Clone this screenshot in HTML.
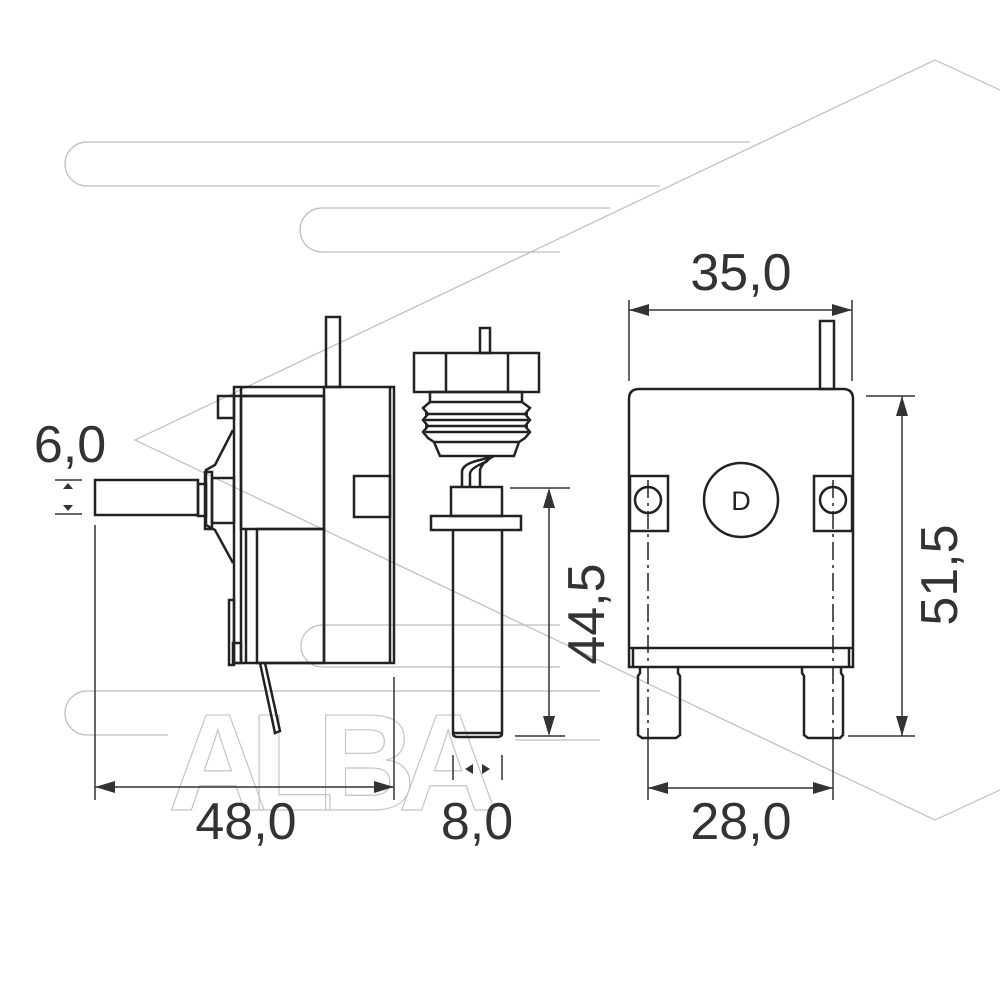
<!DOCTYPE html>
<html><head><meta charset="utf-8"><style>
html,body{margin:0;padding:0;background:#fff;}
svg{display:block;}
.t{font-family:"Liberation Sans",sans-serif;font-size:52px;fill:#333;}
</style></head><body>
<svg width="1000" height="1000" viewBox="0 0 1000 1000" xmlns="http://www.w3.org/2000/svg">
<!-- watermark -->
<g fill="none" stroke="#bdbdbd" stroke-width="1.2">
<polyline points="1000,90 935,60 135,440 935,820 1000,790"/>
<path d="M750,142 H87 A22,22 0 0 0 87,186 H660"/>
<path d="M610,208 H322 A22,22 0 0 0 322,252 H560"/>
<path d="M560,625 H322 A21,21 0 0 0 322,667 H560"/>
<path d="M600,691 H87 A22,22 0 0 0 87,735 H168"/>
<line x1="515" y1="740" x2="600" y2="740"/>
<text x="168" y="810" font-family="Liberation Sans,sans-serif" font-weight="bold" font-size="138" textLength="330" stroke="#c4c4c4" fill="none">ALBA</text>
</g>
<g fill="none" stroke="#222" stroke-width="2.5">
<!-- left view -->
<rect x="326" y="317" width="14" height="70"/>
<rect x="234" y="387" width="160" height="276"/>
<line x1="241" y1="387" x2="241" y2="663"/>
<line x1="324" y1="387" x2="324" y2="663"/>
<line x1="390" y1="387" x2="390" y2="663"/>
<line x1="234" y1="396" x2="324" y2="396"/>
<rect x="241" y="396" width="83" height="133"/>
<rect x="257" y="529" width="67" height="134"/>
<line x1="246" y1="529" x2="246" y2="663"/>
<rect x="354" y="476" width="36" height="41"/>
<rect x="218" y="396" width="16" height="22"/>
<rect x="229" y="600" width="5" height="65"/>
<rect x="233" y="643" width="8" height="20"/>
<path d="M233,430 L215,465 L206,470 L206,525 L215,530 L233,563"/>
<rect x="205" y="472" width="7" height="57"/>
<rect x="212" y="478" width="22" height="45"/>
<rect x="198" y="484" width="8" height="32"/>
<rect x="95" y="480" width="103" height="35"/>
<path d="M260,663 L275,733 L280,731 L265,663"/>
<!-- middle view -->
<rect x="480" y="328" width="10" height="25"/>
<rect x="414" y="353" width="125" height="39"/>
<line x1="446" y1="353" x2="446" y2="392"/>
<line x1="508" y1="353" x2="508" y2="392"/>
<rect x="430" y="392" width="92" height="10"/>
<path d="M430,402 L423,408 L428,414 L423,420 L428,426 L423,432 L428,438 L434,442 L519,442 L525,438 L530,432 L525,426 L530,420 L525,414 L530,408 L522,402"/>
<line x1="425" y1="414" x2="528" y2="414"/><line x1="425" y1="420" x2="528" y2="420"/><line x1="425" y1="426" x2="528" y2="426"/><line x1="425" y1="432" x2="528" y2="432"/>
<path d="M434,442 L440,456 L514,456 L519,442"/>
<path d="M462,487 V472 Q462,464 480,460 Q488,458 490,456 M470,487 V474 Q470,468 486,462 L492,456 M480,487 V470 Q482,462 494,456"/>
<rect x="451" y="487" width="51" height="29"/>
<rect x="431" y="516" width="90" height="14"/>
<path d="M453,530 V733 Q453,737 458,737 H497 Q502,737 502,733 V530"/>
<line x1="453" y1="733" x2="502" y2="733"/>
<!-- right view -->
<rect x="820" y="321" width="14" height="68"/>
<path d="M629,667 V399 Q629,389 639,389 H843 Q853,389 853,399 V667 Z"/>
<line x1="629" y1="648" x2="853" y2="648"/>
<line x1="633" y1="648" x2="633" y2="667"/><line x1="849" y1="648" x2="849" y2="667"/>
<rect x="630" y="476" width="38" height="55"/>
<rect x="814" y="476" width="38" height="55"/>
<circle cx="648" cy="500" r="13"/>
<circle cx="833" cy="500" r="13"/>
<circle cx="741" cy="500" r="37"/>
<path d="M640,667 V673 L638,676 V735 L642,738 H676 L680,735 V676 L678,673 V667"/>
<path d="M802,667 V673 L804,676 V735 L808,738 H840 L843,735 V676 L841,673 V667"/>
</g>
<text x="741" y="510" font-family="Liberation Sans,sans-serif" font-size="27" fill="#222" text-anchor="middle">D</text>
<!-- center dash lines -->
<g stroke="#222" stroke-width="1.5" stroke-dasharray="18,5,3,5">
<line x1="648" y1="480" x2="648" y2="740"/>
<line x1="833" y1="480" x2="833" y2="740"/>
</g>
<!-- dimension lines -->
<g stroke="#333" stroke-width="1.5" fill="none">
<line x1="95" y1="525" x2="95" y2="800"/>
<line x1="394" y1="677" x2="394" y2="800"/>
<line x1="95" y1="787" x2="394" y2="787"/>
<line x1="55" y1="480" x2="82" y2="480"/><line x1="55" y1="514" x2="82" y2="514"/>
<line x1="510" y1="488" x2="570" y2="488"/><line x1="515" y1="736" x2="565" y2="736"/>
<line x1="549" y1="490" x2="549" y2="734"/>
<line x1="453" y1="755" x2="453" y2="780"/><line x1="502" y1="755" x2="502" y2="780"/>
<line x1="629" y1="300" x2="629" y2="381"/><line x1="852" y1="300" x2="852" y2="381"/>
<line x1="629" y1="310" x2="852" y2="310"/>
<line x1="866" y1="396" x2="915" y2="396"/><line x1="848" y1="736" x2="915" y2="736"/>
<line x1="902" y1="396" x2="902" y2="736"/>
<line x1="648" y1="740" x2="648" y2="800"/><line x1="833" y1="740" x2="833" y2="800"/>
<line x1="648" y1="788" x2="833" y2="788"/>
</g>
<g fill="#333">
<polygon points="95,787 115,781 115,793"/><polygon points="394,787 374,781 374,793"/>
<polygon points="68,483 63,489 73,489"/><polygon points="68,511 63,505 73,505"/>
<polygon points="549,488 543,508 555,508"/><polygon points="549,736 543,716 555,716"/>
<polygon points="465,769 473,764 473,774"/><polygon points="490,769 482,764 482,774"/>
<polygon points="629,310 649,304 649,316"/><polygon points="852,310 832,304 832,316"/>
<polygon points="902,396 896,416 908,416"/><polygon points="902,736 896,716 908,716"/>
<polygon points="648,788 668,782 668,794"/><polygon points="833,788 813,782 813,794"/>
</g>
<text class="t" x="70" y="462" text-anchor="middle">6,0</text>
<text class="t" x="246" y="839" text-anchor="middle">48,0</text>
<text class="t" x="477" y="839" text-anchor="middle">8,0</text>
<text class="t" x="741" y="839" text-anchor="middle">28,0</text>
<text class="t" x="741" y="290" text-anchor="middle">35,0</text>
<text class="t" transform="translate(604,614) rotate(-90)" text-anchor="middle">44,5</text>
<text class="t" transform="translate(957,575) rotate(-90)" text-anchor="middle">51,5</text>
</svg>
</body></html>
